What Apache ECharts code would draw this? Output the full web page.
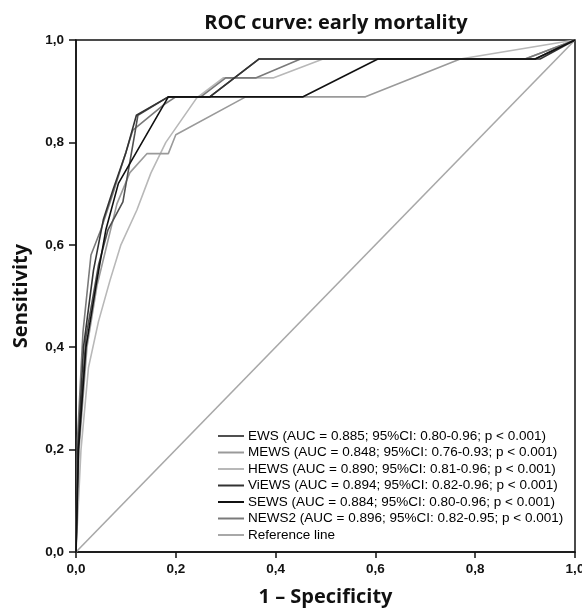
<!DOCTYPE html>
<html>
<head>
<meta charset="utf-8">
<script src="https://cdn.jsdelivr.net/npm/echarts@6/dist/echarts.min.js"></script>
<style>
  html, body { margin: 0; padding: 0; background: #fff; }
  #chart { width: 582px; height: 612px; }
</style>
</head>
<body>
<div id="chart"></div>
<script>
// ROC points as [1 - specificity, sensitivity]
const ewsPoints = [[0, 0], [0.004, 0.2], [0.02, 0.42], [0.045, 0.56], [0.064, 0.629], [0.094, 0.684], [0.118, 0.818], [0.124, 0.853], [0.185, 0.889], [0.268, 0.889], [0.367, 0.963], [0.92, 0.963], [1, 1]]
const mewsPoints = [[0, 0], [0.006, 0.2], [0.022, 0.4], [0.042, 0.52], [0.062, 0.6], [0.082, 0.68], [0.108, 0.741], [0.142, 0.778], [0.185, 0.778], [0.2, 0.815], [0.34, 0.889], [0.58, 0.889], [0.77, 0.963], [0.9, 0.963], [1, 1]]
const hewsPoints = [[0, 0], [0.01, 0.2], [0.025, 0.36], [0.045, 0.45], [0.068, 0.53], [0.09, 0.6], [0.122, 0.668], [0.15, 0.74], [0.18, 0.8], [0.242, 0.887], [0.295, 0.926], [0.395, 0.926], [0.495, 0.963], [0.77, 0.963], [1, 1]]
const viewsPoints = [[0, 0], [0.004, 0.2], [0.015, 0.4], [0.035, 0.55], [0.055, 0.65], [0.074, 0.707], [0.1, 0.78], [0.121, 0.853], [0.185, 0.889], [0.268, 0.889], [0.367, 0.963], [0.93, 0.963], [1, 1]]
const sewsPoints = [[0, 0], [0.005, 0.2], [0.02, 0.4], [0.04, 0.52], [0.06, 0.63], [0.085, 0.72], [0.185, 0.889], [0.455, 0.889], [0.605, 0.963], [0.92, 0.963], [1, 1]]
const news2Points = [[0, 0], [0.003, 0.22], [0.014, 0.43], [0.03, 0.58], [0.05, 0.63], [0.074, 0.7], [0.114, 0.824], [0.175, 0.873], [0.2, 0.889], [0.25, 0.889], [0.3, 0.926], [0.36, 0.926], [0.45, 0.963], [0.9, 0.963], [1, 1]]
const referencePoints = [[0, 0], [1, 1]]

const seriesNames = [
  'EWS (AUC = 0.885; 95%CI: 0.80-0.96; p < 0.001)',
  'MEWS (AUC = 0.848; 95%CI: 0.76-0.93; p < 0.001)',
  'HEWS (AUC = 0.890; 95%CI: 0.81-0.96; p < 0.001)',
  'ViEWS (AUC = 0.894; 95%CI: 0.82-0.96; p < 0.001)',
  'SEWS (AUC = 0.884; 95%CI: 0.80-0.96; p < 0.001)',
  'NEWS2 (AUC = 0.896; 95%CI: 0.82-0.95; p < 0.001)',
  'Reference line'
]
const seriesPoints = [ewsPoints, mewsPoints, hewsPoints, viewsPoints, sewsPoints, news2Points, referencePoints]
const seriesColors = ['#505050', '#9a9a9a', '#b8b8b8', '#333333', '#111111', '#7a7a7a', '#a8a8a8']
const seriesZ = [5, 3, 2, 6, 7, 4, 1]

const tickFmt = v => v.toFixed(1).replace('.', ',')

const chart = echarts.init(document.getElementById('chart'))
chart.setOption({
  animation: false,
  backgroundColor: '#fff',
  title: {
    text: 'ROC curve: early mortality',
    left: 331,
    textAlign: 'center',
    top: 8,
    textStyle: { fontFamily: 'Open Sans', fontWeight: 'bold', fontSize: 20, color: '#111' }
  },
  grid: {
    left: 76, right: 7, top: 40, bottom: 60,
    outerBoundsMode: 'none',
    containLabel: false,
    show: true, borderColor: '#111', borderWidth: 1.5, backgroundColor: 'transparent'
  },
  legend: {
    orient: 'vertical',
    left: 213,
    top: 424,
    itemWidth: 26,
    itemHeight: 2,
    itemGap: 2.5,
    icon: 'rect',
    data: seriesNames,
    textStyle: { fontFamily: 'Liberation Sans', fontSize: 13.5, color: '#000', lineHeight: 14, padding: [0, 0, 0, -1] }
  },
  xAxis: {
    type: 'value', min: 0, max: 1, interval: 0.2,
    name: '1 – Specificity', nameLocation: 'middle', nameGap: 35,
    nameTextStyle: { fontFamily: 'Open Sans', fontWeight: 'bold', fontSize: 20, color: '#111' },
    axisLine: { show: true, lineStyle: { color: '#111', width: 1.5 } },
    axisTick: { show: true, inside: false, length: 6, lineStyle: { color: '#111', width: 1.5 } },
    axisLabel: { formatter: tickFmt, margin: 10, fontFamily: 'Liberation Sans', fontWeight: 'bold', fontSize: 13.5, color: '#111' },
    splitLine: { show: false }
  },
  yAxis: {
    type: 'value', min: 0, max: 1, interval: 0.2,
    name: 'Sensitivity', nameLocation: 'middle', nameGap: 45,
    nameTextStyle: { fontFamily: 'Open Sans', fontWeight: 'bold', fontSize: 20, color: '#111' },
    axisLine: { show: true, lineStyle: { color: '#111', width: 1.5 } },
    axisTick: { show: true, inside: false, length: 7, lineStyle: { color: '#111', width: 1.5 } },
    axisLabel: { formatter: tickFmt, margin: 12, fontFamily: 'Liberation Sans', fontWeight: 'bold', fontSize: 13.5, color: '#111' },
    splitLine: { show: false }
  },
  series: seriesNames.map((name, i) => ({
    name: name,
    type: 'line',
    data: seriesPoints[i],
    showSymbol: false,
    z: seriesZ[i],
    color: seriesColors[i],
    lineStyle: { color: seriesColors[i], width: 1.6 }
  }))
})
</script>
</body>
</html>
